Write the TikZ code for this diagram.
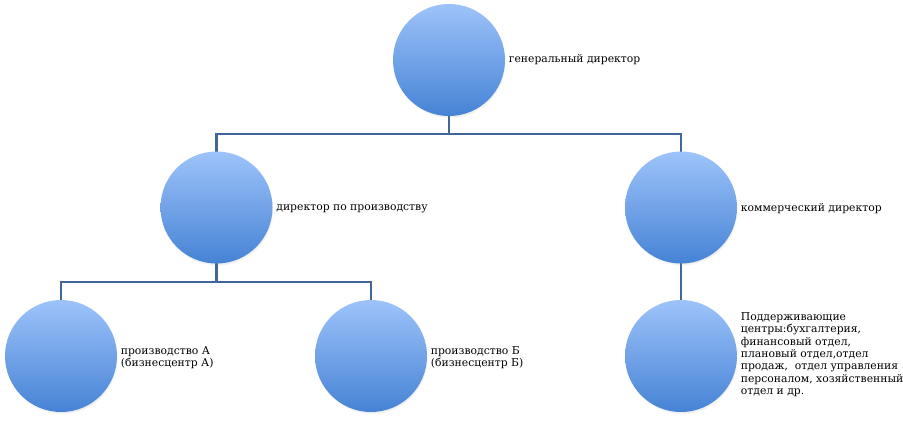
\documentclass[tikz,border=0pt]{standalone}
\usepackage{fontspec}
\setmainfont{DejaVu Serif}
\usetikzlibrary{shadows,backgrounds}
\definecolor{ctop}{HTML}{9EC3FA}
\definecolor{cbot}{HTML}{4683D5}
\definecolor{cline}{HTML}{41679A}
\tikzset{
  ball/.style={circle, inner sep=0pt, minimum size=84pt, top color=ctop, bottom color=cbot, draw=none,
    circular drop shadow={shadow xshift=0.6pt, shadow yshift=-1.8pt, opacity=0.45, shadow scale=1.0}},
  lbl/.style={anchor=west, align=left, inner sep=0pt, font=\fontsize{8.1pt}{9.2pt}\selectfont, text=black},
  conn/.style={draw=cline, line width=1.6pt}
}
\begin{document}
\begin{tikzpicture}[x=0.75pt,y=-0.75pt]
\useasboundingbox (0,0) rectangle (903,422);
\node[ball] (g) at (449,60) {};
\node[ball] (ml) at (216.5,207.5) {};
\node[ball] (mr) at (681,207.5) {};
\node[ball] (ba) at (61,356) {};
\node[ball] (bb) at (371,356) {};
\node[ball] (bc) at (681,356) {};
\coordinate (b1) at (449,134);
\coordinate (b2) at (216.5,282);
\begin{scope}[on background layer]
\draw[conn] (g.center) -- (b1) -| (ml.center);
\draw[conn] (b1) -| (mr.center);
\draw[conn] (ml.center) -- (b2) -| (ba.center);
\draw[conn] (b2) -| (bb.center);
\draw[conn] (mr.center) -- (bc.center);
\end{scope}
\node[lbl] (tg) at ([xshift=2.5pt]g.east) {генеральный директор};
\node[lbl] (tml) at ([xshift=2.5pt,yshift=-1pt]ml.east) {директор по производству};
\node[lbl] (tmr) at ([xshift=2.5pt,yshift=-1pt]mr.east) {коммерческий директор};
\node[lbl] (tba) at ([xshift=2.5pt,yshift=-1pt]ba.east) {производство А\\(бизнесцентр А)};
\node[lbl] (tbb) at ([xshift=2.5pt,yshift=-1pt]bb.east) {производство Б\\(бизнесцентр Б)};
\node[lbl] (tbc) at ([xshift=2.5pt,yshift=1pt]bc.east) {Поддерживающие\\центры:бухгалтерия,\\финансовый отдел,\\плановый отдел,отдел\\продаж,\ \ отдел управления\\персоналом, хозяйственный\\отдел и др.};
\end{tikzpicture}
\end{document}
